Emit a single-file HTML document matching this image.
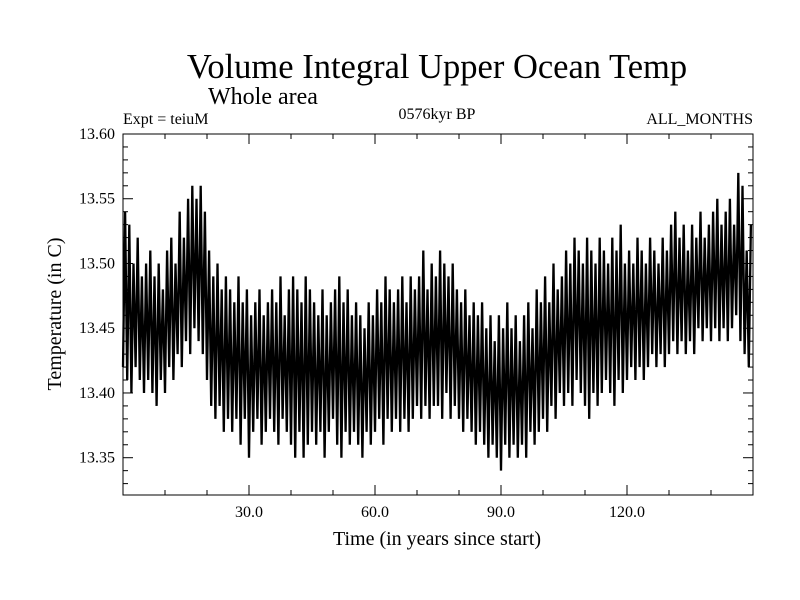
<!DOCTYPE html>
<html><head><meta charset="utf-8"><style>
html,body{margin:0;padding:0;background:#fff;}
svg{display:block;font-family:"Liberation Serif",serif;}
</style></head><body>
<svg id="chart" width="800" height="600" viewBox="0 0 800 600">
<text x="437" y="78" font-size="34.5" text-anchor="middle">Volume Integral Upper Ocean Temp</text>
<text x="208" y="104" font-size="24">Whole area</text>
<text x="123" y="124" font-size="16">Expt = teiuM</text>
<text x="437" y="119" font-size="16" text-anchor="middle">0576kyr BP</text>
<text x="753" y="124" font-size="16" text-anchor="end">ALL_MONTHS</text>
<text x="437" y="545" font-size="20" text-anchor="middle">Time (in years since start)</text>
<text x="0" y="0" font-size="20" text-anchor="middle" transform="translate(61,314) rotate(-90)">Temperature (in C)</text>
<g id="axes"></g>
<g id="series"></g>
<rect x="123" y="134" width="630" height="361" fill="none" stroke="#000" stroke-width="1"/>
</svg>
<script>
const xTicks=[30,60,90,120];
const xTickLabels=["30.0","60.0","90.0","120.0"];
const yTicks=[13.35,13.40,13.45,13.50,13.55,13.60];
const yTickLabels=["13.35","13.40","13.45","13.50","13.55","13.60"];
const highs=[13.54,13.53,13.50,13.52,13.49,13.50,13.51,13.49,13.50,13.48,
13.51,13.52,13.50,13.54,13.52,13.55,13.56,13.55,13.56,13.54,
13.51,13.49,13.50,13.48,13.49,13.48,13.47,13.49,13.47,13.48,
13.46,13.47,13.48,13.46,13.47,13.48,13.47,13.49,13.46,13.48,
13.49,13.48,13.47,13.49,13.48,13.47,13.46,13.48,13.46,13.47,
13.48,13.49,13.47,13.48,13.46,13.47,13.46,13.45,13.47,13.46,
13.48,13.47,13.49,13.48,13.47,13.48,13.49,13.47,13.49,13.48,
13.49,13.51,13.48,13.50,13.49,13.51,13.50,13.49,13.50,13.48,
13.47,13.48,13.46,13.47,13.46,13.47,13.45,13.46,13.44,13.46,
13.45,13.47,13.45,13.46,13.44,13.46,13.47,13.45,13.48,13.47,
13.49,13.47,13.50,13.48,13.49,13.51,13.50,13.52,13.51,13.50,
13.52,13.51,13.50,13.52,13.51,13.50,13.52,13.51,13.53,13.50,
13.51,13.50,13.52,13.51,13.50,13.52,13.51,13.50,13.52,13.51,
13.53,13.54,13.52,13.53,13.51,13.53,13.52,13.54,13.52,13.53,
13.54,13.55,13.53,13.54,13.55,13.53,13.57,13.56,13.51,13.53];
const lows=[13.42,13.41,13.40,13.42,13.41,13.40,13.41,13.40,13.39,13.41,
13.40,13.42,13.41,13.43,13.42,13.44,13.43,13.45,13.44,13.43,
13.41,13.39,13.38,13.39,13.37,13.38,13.37,13.38,13.36,13.38,
13.35,13.37,13.38,13.36,13.37,13.38,13.37,13.36,13.38,13.37,
13.36,13.35,13.37,13.35,13.36,13.37,13.36,13.37,13.35,13.37,
13.38,13.36,13.35,13.37,13.36,13.37,13.36,13.35,13.37,13.36,
13.37,13.38,13.36,13.38,13.37,13.38,13.37,13.38,13.37,13.38,
13.39,13.38,13.39,13.38,13.39,13.39,13.38,13.40,13.38,13.39,
13.38,13.37,13.38,13.37,13.36,13.37,13.36,13.35,13.36,13.35,
13.34,13.36,13.35,13.36,13.35,13.36,13.35,13.37,13.36,13.37,
13.38,13.37,13.39,13.38,13.40,13.39,13.40,13.39,13.41,13.40,
13.39,13.38,13.40,13.39,13.40,13.41,13.40,13.39,13.41,13.40,
13.41,13.42,13.41,13.42,13.41,13.42,13.43,13.42,13.43,13.42,
13.43,13.44,13.43,13.44,13.43,13.44,13.43,13.45,13.44,13.45,
13.44,13.45,13.44,13.45,13.44,13.45,13.46,13.44,13.43,13.42];
const X0=123,X1=753,Y0=495,Y1=134;
const xMin=0,xMax=150,yMin=13.3212,yMax=13.60;
function xs(v){return X0+(v-xMin)/(xMax-xMin)*(X1-X0);}
function ys(v){return Y0-(v-yMin)/(yMax-yMin)*(Y0-Y1);}
const NS="http://www.w3.org/2000/svg";
const axes=document.getElementById('axes');
function ln(x1,y1,x2,y2,name){
  const l=document.createElementNS(NS,'line');
  l.setAttribute('x1',x1);l.setAttribute('y1',y1);l.setAttribute('x2',x2);l.setAttribute('y2',y2);
  l.setAttribute('stroke','#000');l.setAttribute('stroke-width','1');
  
  
  axes.appendChild(l);
}
for(let v=10;v<150;v+=10){
  const len=(v%30===0)?10:5;const x=xs(v);
  ln(x,Y0,x,Y0-len,'x-tick');ln(x,Y1,x,Y1+len,'x-tick-top');
}
for(let k=0;k<=27;k++){
  const v=13.33+k*0.01;const y=ys(v);if(y<Y1-0.5||y>Y0)continue;
  const major=(Math.round(v*100)%5===0);const len=major?10:5;
  ln(X0,y,X0+len,y,'y-tick');ln(X1,y,X1-len,y,'y-tick-right');
}
xTicks.forEach((v,i)=>{
  const t=document.createElementNS(NS,'text');
  t.setAttribute('x',xs(v));t.setAttribute('y',Y0+22);t.setAttribute('font-size','16');t.setAttribute('text-anchor','middle');
  t.textContent=xTickLabels[i];
  
  
  axes.appendChild(t);
});
yTicks.forEach((v,i)=>{
  const t=document.createElementNS(NS,'text');
  t.setAttribute('x',X0-8);t.setAttribute('y',ys(v)+5);t.setAttribute('font-size','16');t.setAttribute('text-anchor','end');
  t.textContent=yTickLabels[i];
  
  
  axes.appendChild(t);
});
let d='';
for(let i=0;i<highs.length;i++){
  d+=(i===0?'M':'L')+xs(i).toFixed(2)+','+ys(lows[i]).toFixed(2);
  d+='L'+xs(i+0.5).toFixed(2)+','+ys(highs[i]).toFixed(2);
}
const p=document.createElementNS(NS,'path');
p.setAttribute('d',d);p.setAttribute('fill','none');p.setAttribute('stroke','#000');p.setAttribute('stroke-width','2.3');


document.getElementById('series').appendChild(p);
</script>
</body></html>
